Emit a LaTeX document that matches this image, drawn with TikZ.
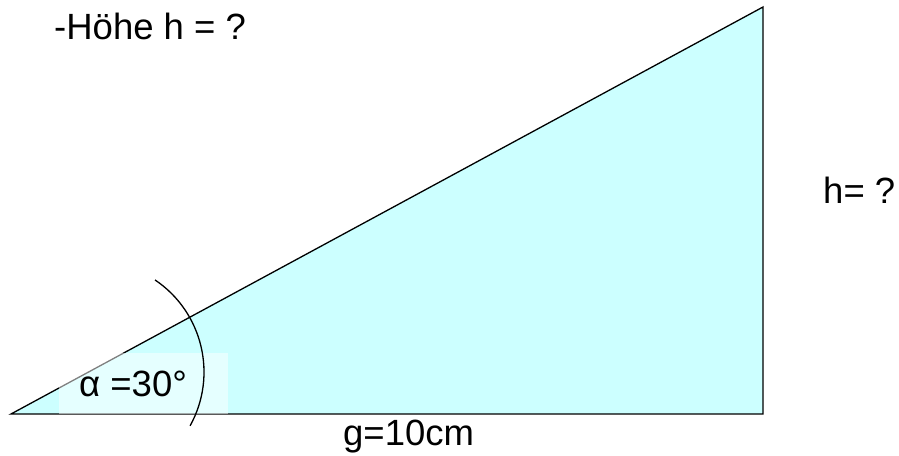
\documentclass[tikz,border=0pt]{standalone}
\usepackage{fontspec}
\setmainfont{Liberation Sans}
\usepackage{xcolor}
\usetikzlibrary{positioning, calc}
\definecolor{triafill}{HTML}{CCFFFF}
\tikzset{
  trianglefill/.style={
    fill=triafill,
    draw=black,
    line width=1.3pt,
    line join=miter
  },
  labeltext/.style={
    font=\fontsize{36.5}{42}\selectfont,
    inner sep=0pt,
    anchor=base west
  },
  anglebox/.style={
    fill=white,
    fill opacity=0.5,
    draw=none
  },
  anglearc/.style={
    draw=black,
    line width=1.3pt
  }
}

\begin{document}
\begin{tikzpicture}[x=1pt, y=1pt]
  \useasboundingbox (0,0) rectangle (899,455);
  % corners of the triangle
  \coordinate (A) at (11,41);
  \coordinate (B) at (763,41);
  \coordinate (C) at (763,448);

  \filldraw[trianglefill] (A) -- (B) -- (C) -- cycle;

  % angle at A
  \fill[anglebox] (59,41) rectangle (228,102);
  \coordinate (arccenter) at (93,83);
  \draw[anglearc] ($(arccenter)+(56:111)$) arc[start angle=56, end angle=-29, radius=111];

  \node[labeltext] (alpha) at (79,58) {α =30°};
  \node[labeltext] (base) at (343,10) {g=10cm};
  \node[labeltext] (height) at (823,251) {h= ?};
  \node[labeltext] (question) at (54,415) {-Höhe h = ?};
\end{tikzpicture}
\end{document}
